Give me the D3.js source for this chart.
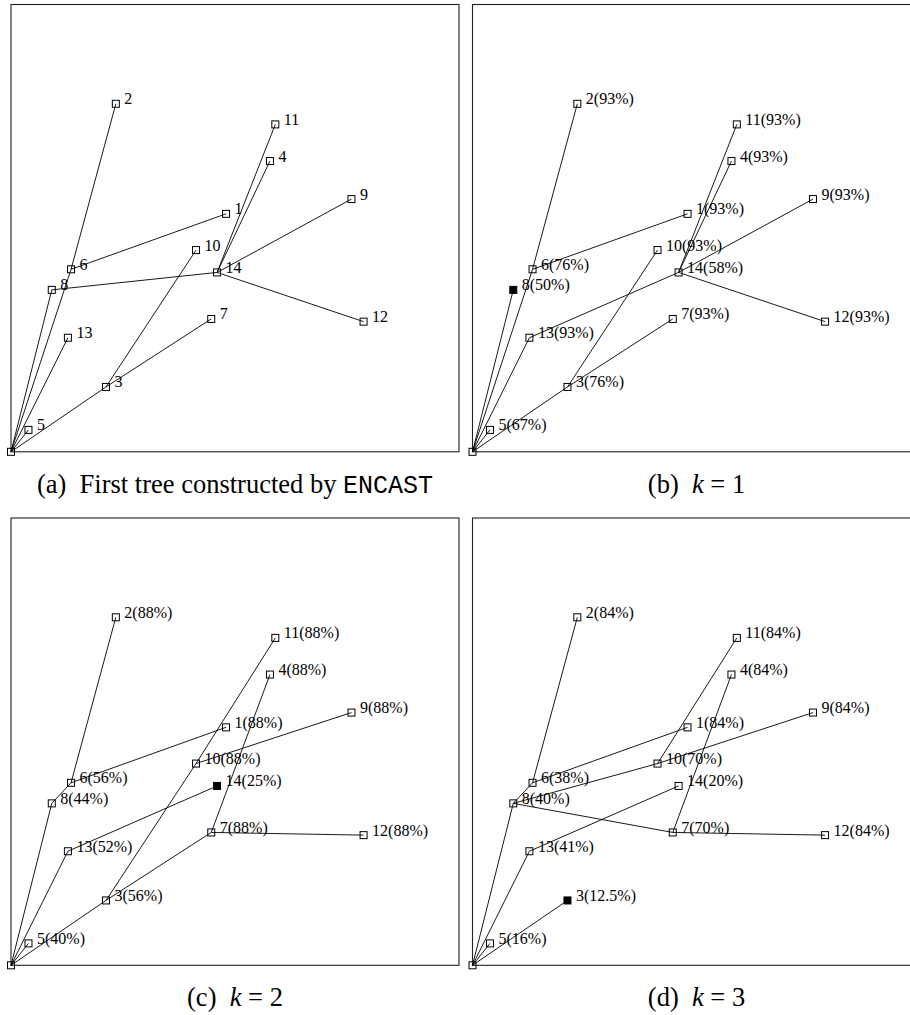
<!DOCTYPE html>
<html>
<head>
<meta charset="utf-8">
<script src="https://cdn.jsdelivr.net/npm/d3@7"></script>
<style>
  html, body { margin: 0; padding: 0; background: #fff; }
  svg { display: block; }
</style>
</head>
<body>
<svg id="fig" width="910" height="1015"></svg>
<script>
// Node positions (same layout in all four trees); node 0 is the root at the corner.
const nodeIds = [0, 1, 2, 3, 4, 5, 6, 7, 8, 9, 10, 11, 12, 13, 14];
const nodeX   = [0, 48.0, 23.4, 21.2, 57.8, 3.9, 13.4, 44.7, 9.1, 76.0, 41.3, 59.0, 78.7, 12.7, 46.0];
const nodeY   = [0, 53.2, 77.8, 14.5, 65.0, 4.9, 40.8, 29.7, 36.2, 56.5, 45.1, 73.2, 29.1, 25.5, 40.1];

// Parent of each node (index = node id) for each tree.
const parentA = [null, 6, 6, 0, 14, 0, 0, 3, 0, 14, 3, 14, 14, 0, 8];
const parentB = [null, 6, 6, 0, 14, 0, 0, 3, 0, 14, 3, 14, 14, 0, 13];
const parentC = [null, 6, 6, 0, 7, 0, 8, 3, 0, 10, 3, 10, 7, 0, 13];
const parentD = [null, 6, 6, 0, 7, 0, 8, 8, 0, 10, 8, 10, 7, 0, 13];

// Percentages shown beside each node for k = 1, 2, 3.
const pctB = [null, "93%", "93%", "76%", "93%", "67%", "76%", "93%", "50%", "93%", "93%", "93%", "93%", "93%", "58%"];
const pctC = [null, "88%", "88%", "56%", "88%", "40%", "56%", "88%", "44%", "88%", "88%", "88%", "88%", "52%", "25%"];
const pctD = [null, "84%", "84%", "12.5%", "84%", "16%", "38%", "70%", "40%", "84%", "70%", "84%", "84%", "41%", "20%"];

// Highlighted (filled) node per tree.
const highlighted = [null, 8, 14, 3];

const panels = [
  { left: 11,    top: 4.5, parent: parentA, pct: null, hi: highlighted[0], caption: "a" },
  { left: 472.5, top: 4.5, parent: parentB, pct: pctB, hi: highlighted[1], caption: "b", k: "1" },
  { left: 11,    top: 518, parent: parentC, pct: pctC, hi: highlighted[2], caption: "c", k: "2" },
  { left: 472.5, top: 518, parent: parentD, pct: pctD, hi: highlighted[3], caption: "d", k: "3" }
];

const W = 448, H = 447.3;
const svg = d3.select("#fig");
const serif = "'Liberation Serif', 'Times New Roman', serif";

panels.forEach(p => {
  const x = d3.scaleLinear().domain([0, 100]).range([p.left, p.left + W]);
  const y = d3.scaleLinear().domain([0, 100]).range([p.top + H, p.top]);
  const g = svg.append("g");

  // frame
  g.append("rect")
    .attr("x", x(0)).attr("y", y(100))
    .attr("width", W).attr("height", H)
    .attr("fill", "none").attr("stroke", "#222").attr("stroke-width", 1.1);

  // edges
  const edges = nodeIds.filter(i => p.parent[i] !== null).map(i => [p.parent[i], i]);
  g.selectAll("line.edge").data(edges).join("line")
    .attr("class", "edge")
    .attr("x1", d => x(nodeX[d[0]])).attr("y1", d => y(nodeY[d[0]]))
    .attr("x2", d => x(nodeX[d[1]])).attr("y2", d => y(nodeY[d[1]]))
    .attr("stroke", "#000").attr("stroke-width", 0.9);

  // node markers
  const s = 7;
  g.selectAll("rect.node").data(nodeIds).join("rect")
    .attr("class", "node")
    .attr("x", i => x(nodeX[i]) - s / 2).attr("y", i => y(nodeY[i]) - s / 2)
    .attr("width", s).attr("height", s)
    .attr("fill", i => i === p.hi ? "#000" : "none")
    .attr("stroke", "#000").attr("stroke-width", 1);

  // node labels
  g.selectAll("text.lab").data(nodeIds.filter(i => i > 0)).join("text")
    .attr("class", "lab")
    .attr("x", i => x(nodeX[i]) + 8.5).attr("y", i => y(nodeY[i]) + 0.5)
    .attr("font-family", serif).attr("font-size", 16)
    .attr("fill", "#000")
    .text(i => p.pct ? `${i}(${p.pct[i]})` : `${i}`);

  // caption
  const cap = svg.append("text")
    .attr("x", p.left + 224).attr("y", p.top + H + 41)
    .attr("text-anchor", "middle")
    .attr("font-family", serif).attr("font-size", 26.5)
    .attr("fill", "#000");
  if (p.caption === "a") {
    cap.append("tspan").text("(a)\u2002First tree constructed by ");
    cap.append("tspan").attr("font-family", "'Liberation Mono', 'DejaVu Sans Mono', monospace").attr("font-size", 25).text("ENCAST");
  } else {
    cap.append("tspan").text(`(${p.caption})\u2002`);
    cap.append("tspan").attr("font-style", "italic").text("k");
    cap.append("tspan").text(` = ${p.k}`);
  }
});
</script>
</body>
</html>
